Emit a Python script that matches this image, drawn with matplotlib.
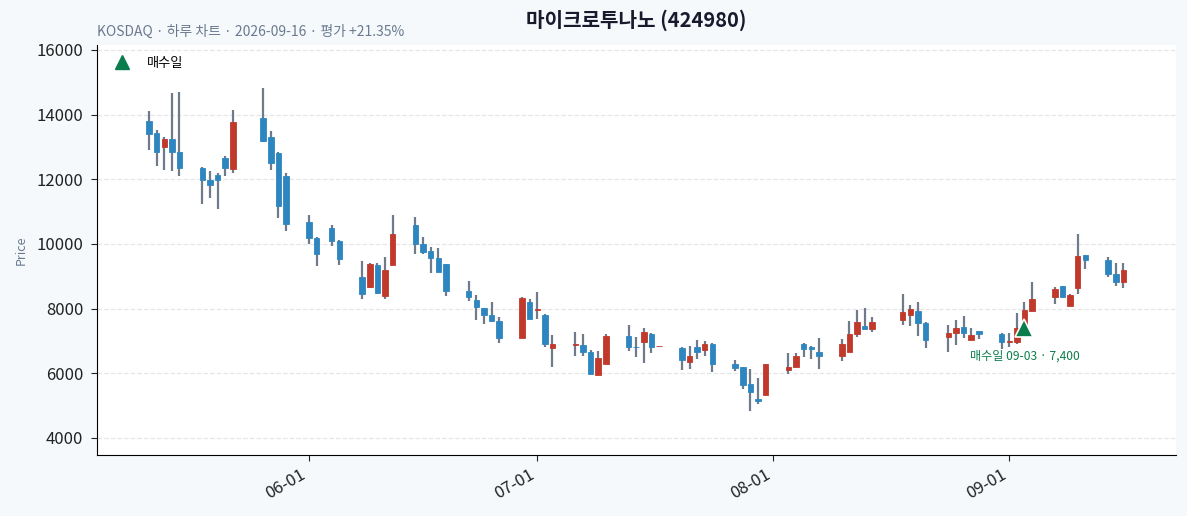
import matplotlib
matplotlib.use("Agg")
import matplotlib.pyplot as plt
import matplotlib.dates as mdates
from matplotlib.lines import Line2D
import pandas as pd

plt.rcParams["font.family"] = ["Noto Sans CJK KR", "DejaVu Sans"]

TITLE = "마이크로투나노 (424980)"
SUBTITLE = "KOSDAQ · 하루 차트 · 2026-09-16 · 평가 +21.35%"

# trading days (Korean market holidays removed)
START, END = "2026-05-11", "2026-09-16"
HOLIDAYS = ["2026-05-25", "2026-06-03", "2026-08-17"]

opens = [
    13800, 13430, 13000, 13240, 12850, 12340, 11980, 12130, 12660, 12330,
    13900, 13310, 12820, 12100,
    10670, 10180, 10490, 10080, 8970, 8660, 9340, 8400, 9340, 10580,
    9990, 9770, 9560, 9370, 8540, 8270, 8030, 7800, 7620, 7080, 8200,
    7970, 7800, 6790, 6890, 6860, 6660, 5940, 6290, 7150, 6810, 6980,
    7200, 6830, 6770, 6360, 6800, 6730, 6900, 6280, 6190, 5660, 5190, 5320,
    6110, 6210, 6900, 6800, 6660, 6540, 6650, 7200, 7450, 7380, 7660,
    7790, 7930, 7550, 7110, 7240, 7430, 7020, 7310, 7210,
    6970, 6980, 7400, 7940, 8360, 8690, 8090, 8630, 9660, 9500, 9070, 8830,
]
highs = [
    14100, 13510, 13300, 14670, 14700, 12380, 12250, 12190, 12720, 14140,
    14820, 13490, 12830, 12190,
    10890, 10210, 10580, 10110, 9460, 9400, 9400, 9610, 10890, 10830,
    10210, 9900, 9870, 9380, 8850, 8410, 8030, 8200, 7730, 8350, 8310,
    8500, 7830, 7170, 7270, 7200, 6710, 6690, 7200, 7480, 7110, 7390,
    7240, 6830, 6800, 6830, 7020, 6990, 6930, 6400, 6200, 6120, 5870, 6290,
    6620, 6620, 6940, 6830, 7080, 7050, 7610, 7960, 8020, 7750, 8440,
    8110, 8200, 7580, 7480, 7660, 7760, 7390, 7320, 7260,
    7240, 7850, 8200, 8810, 8660, 8710, 8440, 10300, 9670, 9610, 9400, 9400,
]
lows = [
    12910, 12420, 12290, 12260, 12100, 11240, 11420, 11080, 12100, 12190,
    13160, 12290, 10810, 10400,
    10000, 9320, 9950, 9340, 8310, 8650, 8460, 8310, 9340, 9680,
    9680, 9090, 9120, 8380, 8230, 7640, 7510, 7610, 6930, 7080, 7670,
    7670, 6800, 6180, 6550, 6520, 5990, 5940, 6290, 6680, 6490, 6310,
    6620, 6830, 6090, 6120, 6430, 6520, 6030, 6060, 5500, 4820, 5040, 5320,
    5990, 6210, 6490, 6430, 6120, 6380, 6650, 7110, 7380, 7290, 7480,
    7450, 7140, 6770, 6660, 6870, 7090, 7020, 7070, 6740,
    6800, 6900, 7300, 7940, 8130, 8350, 8090, 8440, 9220, 8970, 8700, 8630,
]
closes = [
    13400, 12840, 13240, 12840, 12340, 11970, 11820, 11970, 12340, 13780,
    13170, 12500, 11160, 10610,
    10180, 9680, 10080, 9530, 8440, 9370, 8490, 9190, 10300, 9990,
    9760, 9560, 9120, 8540, 8370, 8040, 7790, 7610, 7080, 8320, 7670,
    7980, 6910, 6900, 6900, 6670, 5990, 6470, 7140, 6820, 6800, 7270,
    6820, 6835, 6420, 6550, 6670, 6900, 6280, 6170, 5640, 5430, 5140, 6280,
    6210, 6550, 6760, 6740, 6520, 6900, 7210, 7590, 7380, 7580, 7890,
    7980, 7550, 7040, 7250, 7390, 7250, 7180, 7200, 6960,
    7010, 7400, 7960, 8300, 8610, 8350, 8420, 9630, 9500, 9070, 8810, 9190,
]

BUY_DATE = "2026-09-03"
BUY_PRICE = 7400

UP = "#c0392b"
DOWN = "#2e86c1"
WICK = "#6f7b8a"
BUY = "#0b7d4c"
BG = "#f5f9fc"

dates = pd.bdate_range(START, END)
dates = dates[~dates.isin(pd.to_datetime(HOLIDAYS))]
x = mdates.date2num(dates.to_pydatetime())

fig = plt.figure(figsize=(11.87, 5.16), dpi=100, facecolor=BG)
ax = fig.add_axes([0.0813, 0.118, 0.9094, 0.795])
ax.set_facecolor("white")

body_w = 0.72
for xi, o, h, l, c in zip(x, opens, highs, lows, closes):
    col = UP if c >= o else DOWN
    ax.vlines(xi, l, h, color=WICK, linewidth=1.6, zorder=2)
    height = max(abs(c - o), 12)
    ax.bar(xi, height, bottom=min(o, c), width=body_w, color=col,
           edgecolor=col, linewidth=0.6, zorder=3)

bx = mdates.date2num(pd.Timestamp(BUY_DATE).to_pydatetime())
ax.plot([bx], [BUY_PRICE], marker="^", markersize=13.5, color=BUY,
        markeredgecolor="white", markeredgewidth=1.2, linestyle="none", zorder=5)
ax.annotate(f"매수일 {pd.Timestamp(BUY_DATE):%m-%d} · {BUY_PRICE:,}",
            (bx, BUY_PRICE), xytext=(0, -20), textcoords="offset points",
            ha="center", va="center", fontsize=8.7, color=BUY)

legend_handles = [Line2D([], [], marker="^", color=BUY, linestyle="none",
                         markersize=10, label="매수일")]
ax.legend(handles=legend_handles, loc="upper left", frameon=False, fontsize=9.5,
          handletextpad=0.9, borderaxespad=0.5)

ax.set_xlim(x[0] - 6.9, x[-1] + 6.9)
ax.set_ylim(min(lows) * 0.72, max(highs) * 1.09)
ax.set_yticks(range(4000, 16001, 2000))
ax.xaxis.set_major_locator(mdates.MonthLocator())
ax.xaxis.set_major_formatter(mdates.DateFormatter("%m-%d"))
for lab in ax.get_xticklabels():
    lab.set_rotation(30)
    lab.set_ha("right")
ax.tick_params(axis="both", labelsize=12, colors="#222222", length=4.5)
ax.tick_params(axis="y", pad=5)
ax.grid(axis="y", linestyle="--", color="#e6e6e6", linewidth=0.9)
ax.set_axisbelow(True)
for side in ("top", "right"):
    ax.spines[side].set_visible(False)
ax.set_ylabel("Price", fontsize=9, color="#6b7a90", labelpad=6)

fig.text(0.536, 0.961, TITLE, ha="center", va="center", fontsize=14.5,
         fontweight="bold", color="#1a1a2e")
fig.text(0.0813, 0.938, SUBTITLE, ha="left", va="center", fontsize=10,
         color="#6b7a90")

fig.savefig("out.png", dpi=100, facecolor=BG)
